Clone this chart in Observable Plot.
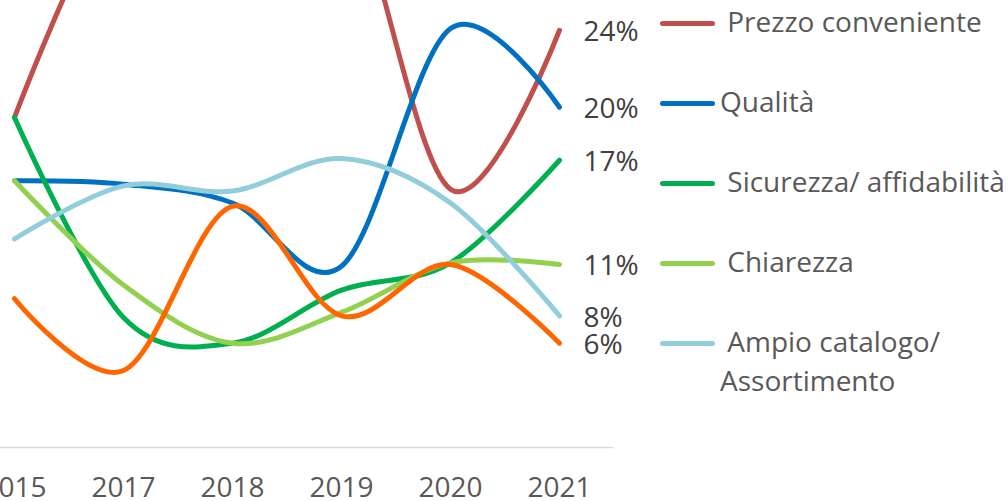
<!DOCTYPE html>
<html><head><meta charset="utf-8">
<script src="https://cdn.jsdelivr.net/npm/d3@7"></script>
<script src="https://cdn.jsdelivr.net/npm/@observablehq/plot@0.6"></script>
<style>
html,body{margin:0;padding:0;background:#fff;}
#wrap{position:relative;width:1008px;height:501px;overflow:hidden;font-family:"Open Sans",sans-serif;}
.sw{position:absolute;left:660px;width:55px;height:5px;border-radius:2.5px;}
.lt{position:absolute;left:720px;font-size:28px;line-height:39px;color:#595959;white-space:pre;}
</style></head><body>
<div id="wrap"></div>
<script>
// Categories (2016 is absent in the source chart)
const years = ["2015", "2017", "2018", "2019", "2020", "2021"];

// Series names (the sixth, orange series has no visible legend entry)
const seriesNames = ["Prezzo conveniente", "Qualità", "Sicurezza/ affidabilità", "Chiarezza", "Ampio catalogo/ Assortimento", "Altro"];

// Series values (%)
const prezzo    = [19.3, 33.0, 35.0, 33.5, 15.1, 24.4];
const qualita   = [15.6, 15.4, 14.3, 10.6, 24.5, 19.9];
const sicurezza = [19.3, 7.6, 6.1, 9.2, 10.8, 16.8];
const chiarezza = [15.6, 9.5, 6.1, 7.9, 10.8, 10.7];
const ampio     = [12.2, 15.3, 15.0, 16.9, 14.3, 7.7];
const altro     = [8.7, 4.5, 14.1, 7.7, 10.7, 6.1];

const colors = ["#C0504D", "#0070C0", "#00B050", "#92D050", "#92CDDC", "#FF6600"];

// Legend labels as shown (leading spaces reproduce the original alignment)
const legendLabels = [" Prezzo conveniente", "Qualità", " Sicurezza/ affidabilità", " Chiarezza", " Ampio catalogo/\nAssortimento"];

const values = [prezzo, qualita, sicurezza, chiarezza, ampio, altro];
const data = seriesNames.flatMap((name, i) => years.map((year, j) => ({series: name, year, value: values[i][j]})));
const last = data.filter(d => d.year === years[years.length - 1]);

const chart = Plot.plot({
  width: 1008,
  height: 501,
  marginLeft: -40.5,
  marginRight: 394.5,
  marginTop: 0,
  marginBottom: 54,
  style: {fontFamily: '"Open Sans", sans-serif', background: "white"},
  x: {type: "point", domain: years, padding: 0.5, label: null},
  y: {domain: [0, 26.14], axis: null},
  color: {domain: seriesNames, range: colors},
  marks: [
    Plot.ruleY([0], {stroke: "#D9D9D9", strokeWidth: 1.5}),
    Plot.axisX({tickSize: 0, tickPadding: 30, fontSize: 28, color: "#595959", label: null}),
    Plot.line(data, {x: "year", y: "value", z: "series", stroke: "series", strokeWidth: 5, curve: "cardinal", clip: true, strokeLinecap: "round", strokeLinejoin: "round"}),
    Plot.text(last, {x: "year", y: "value", text: d => Math.round(d.value) + "%", textAnchor: "start", dx: 24, dy: 2, fontSize: 28, fill: "#404040"})
  ]
});

const wrap = document.getElementById("wrap");
wrap.appendChild(chart);

legendLabels.forEach((label, i) => {
  const cy = 23 + i * 80;
  const sw = document.createElement("div");
  sw.className = "sw";
  sw.style.top = (cy - 2.5) + "px";
  sw.style.background = colors[i];
  wrap.appendChild(sw);
  const t = document.createElement("div");
  t.className = "lt";
  t.style.top = (cy - 21) + "px";
  t.textContent = label;
  wrap.appendChild(t);
});
</script>
</body></html>
